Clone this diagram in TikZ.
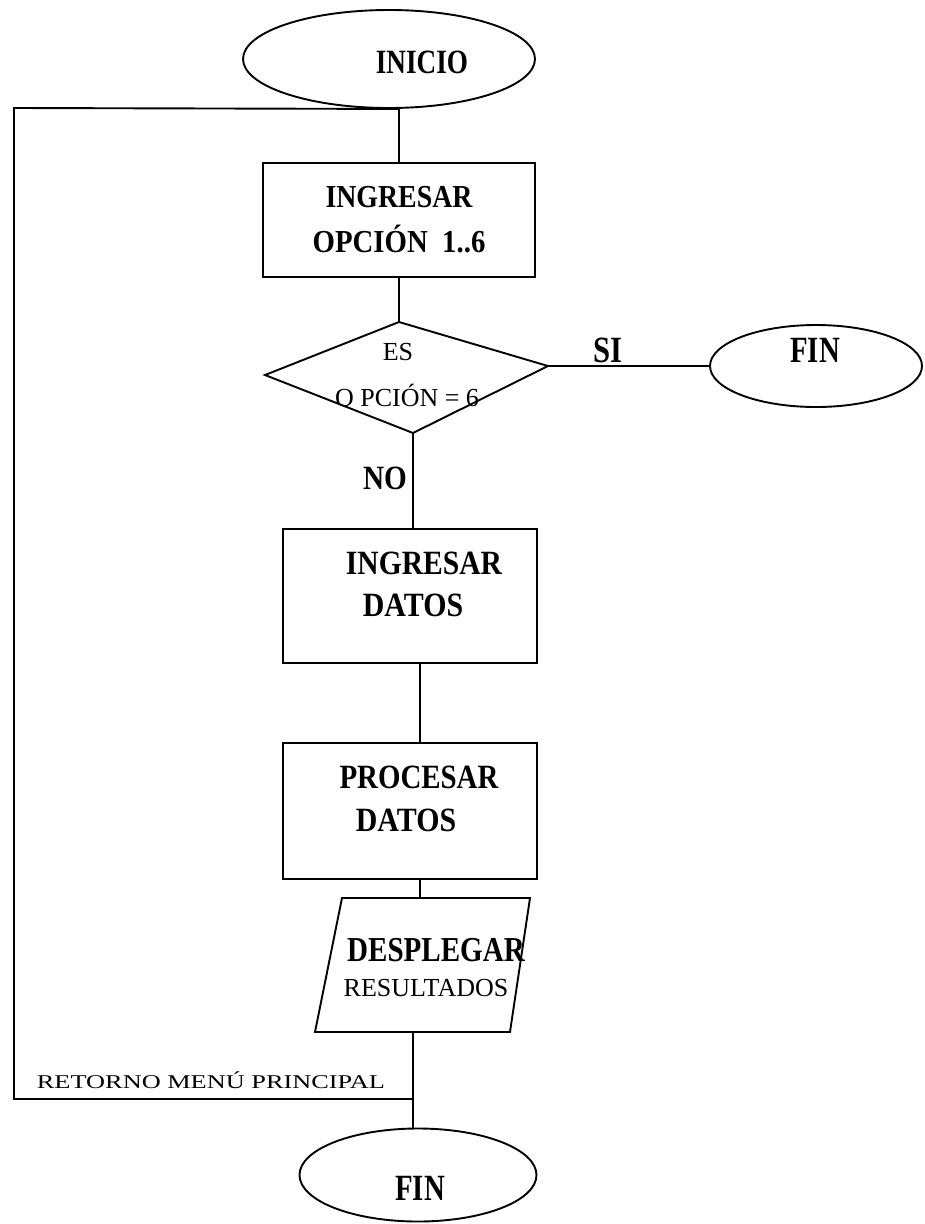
\documentclass[tikz,border=0pt]{standalone}
\usepackage{fontspec}
\setmainfont{Liberation Serif}
\usetikzlibrary{shapes.geometric,calc}
\newcommand\cnd[2]{\scalebox{#1}[1]{#2}}
\begin{document}
\begin{tikzpicture}[x=1pt,y=-1pt,line width=1.9pt,
  shp/.style={draw,inner sep=0pt},
  term/.style={shp,ellipse},
  procbox/.style={shp,rectangle},
  lbl/.style={inner sep=0pt,text depth=0pt},
  bigb/.style={lbl,font=\bfseries\fontsize{34}{40}\selectfont},
  hugeb/.style={lbl,font=\bfseries\fontsize{37}{42}\selectfont},
  smallr/.style={lbl,font=\fontsize{26}{30}\selectfont},
]
\useasboundingbox (0,0) rectangle (925,1224);

% ---- shapes ----
\node[term,minimum width=292,minimum height=98] (ini) at (389,59) {};
\node[procbox,minimum width=272,minimum height=114,align=center,
      font=\bfseries\fontsize{32}{45}\selectfont] (b1) at (399,220)
      {\cnd{0.87}{INGRESAR}\\\cnd{0.9}{OPCIÓN\ \ 1..6}};

\coordinate (dT) at (399,322);
\coordinate (dR) at (548,366);
\coordinate (dB) at (413,433);
\coordinate (dL) at (265,375);
\draw (dT) -- (dR) -- (dB) -- (dL) -- cycle;

\node[term,minimum width=212,minimum height=82] (fin1) at (816,366) {};

\node[procbox,minimum width=254,minimum height=134] (b2) at (410,596) {};
\node[procbox,minimum width=254,minimum height=136] (b3) at (410,811) {};

\coordinate (pTL) at (342,898);
\coordinate (pTR) at (530,898);
\coordinate (pBR) at (510,1032);
\coordinate (pBL) at (315,1032);
\draw (pTL) -- (pTR) -- (pBR) -- (pBL) -- cycle;

\node[term,minimum width=237,minimum height=93] (fin2) at (418,1175) {};

% ---- connectors ----
\coordinate (jt) at (b1.north |- ini.south);
\coordinate (lt) at (14,108);
\coordinate (lb) at (14,1099);
\coordinate (pBot) at (413,1032);
\coordinate (rj) at (pBot |- lb);
\draw (rj) -- (lb) -- (lt) -- (jt) -- (b1.north);
\draw (b1.south) -- (dT);
\draw (dR) -- (fin1.west);
\draw (dB) -- (dB |- b2.north);
\draw ([xshift=10]b2.south) -- ([xshift=10]b3.north);
\draw ([xshift=10]b3.south) -- ([xshift=10]b3.south |- pTL);
\draw (pBot) -- (pBot |- fin2.north);

% ---- labels ----
\node[bigb] (tini) at (422,62) {\cnd{0.8}{INICIO}};
\node[smallr] (tes) at (398,352) {ES};
\node[smallr] (top) at (407,395) {O PCIÓN = 6};
\node[hugeb] (tsi) at (608,350) {\cnd{0.83}{SI}};
\node[hugeb] (tfin1) at (815,350) {\cnd{0.78}{FIN}};
\node[bigb] (tno) at (385,478) {\cnd{0.86}{NO}};
\node[bigb] (t2a) at (424,563) {\cnd{0.87}{INGRESAR}};
\node[bigb] (t2b) at (413,605) {\cnd{0.88}{DATOS}};
\node[bigb] (t3a) at (419,777) {\cnd{0.85}{PROCESAR}};
\node[bigb] (t3b) at (406,820) {\cnd{0.88}{DATOS}};
\node[lbl,font=\bfseries\fontsize{35}{40}\selectfont] (t4a) at (436,950) {\cnd{0.83}{DESPLEGAR}};
\node[smallr] (t4b) at (426,988) {RESULTADOS};
\node[lbl,font=\fontsize{19.5}{22}\selectfont] (tret) at (211,1080)
      {\scalebox{1.35}[1]{RETORNO MENÚ PRINCIPAL}};
\node[hugeb] (tfin2) at (420,1188) {\cnd{0.78}{FIN}};
\end{tikzpicture}
\end{document}
